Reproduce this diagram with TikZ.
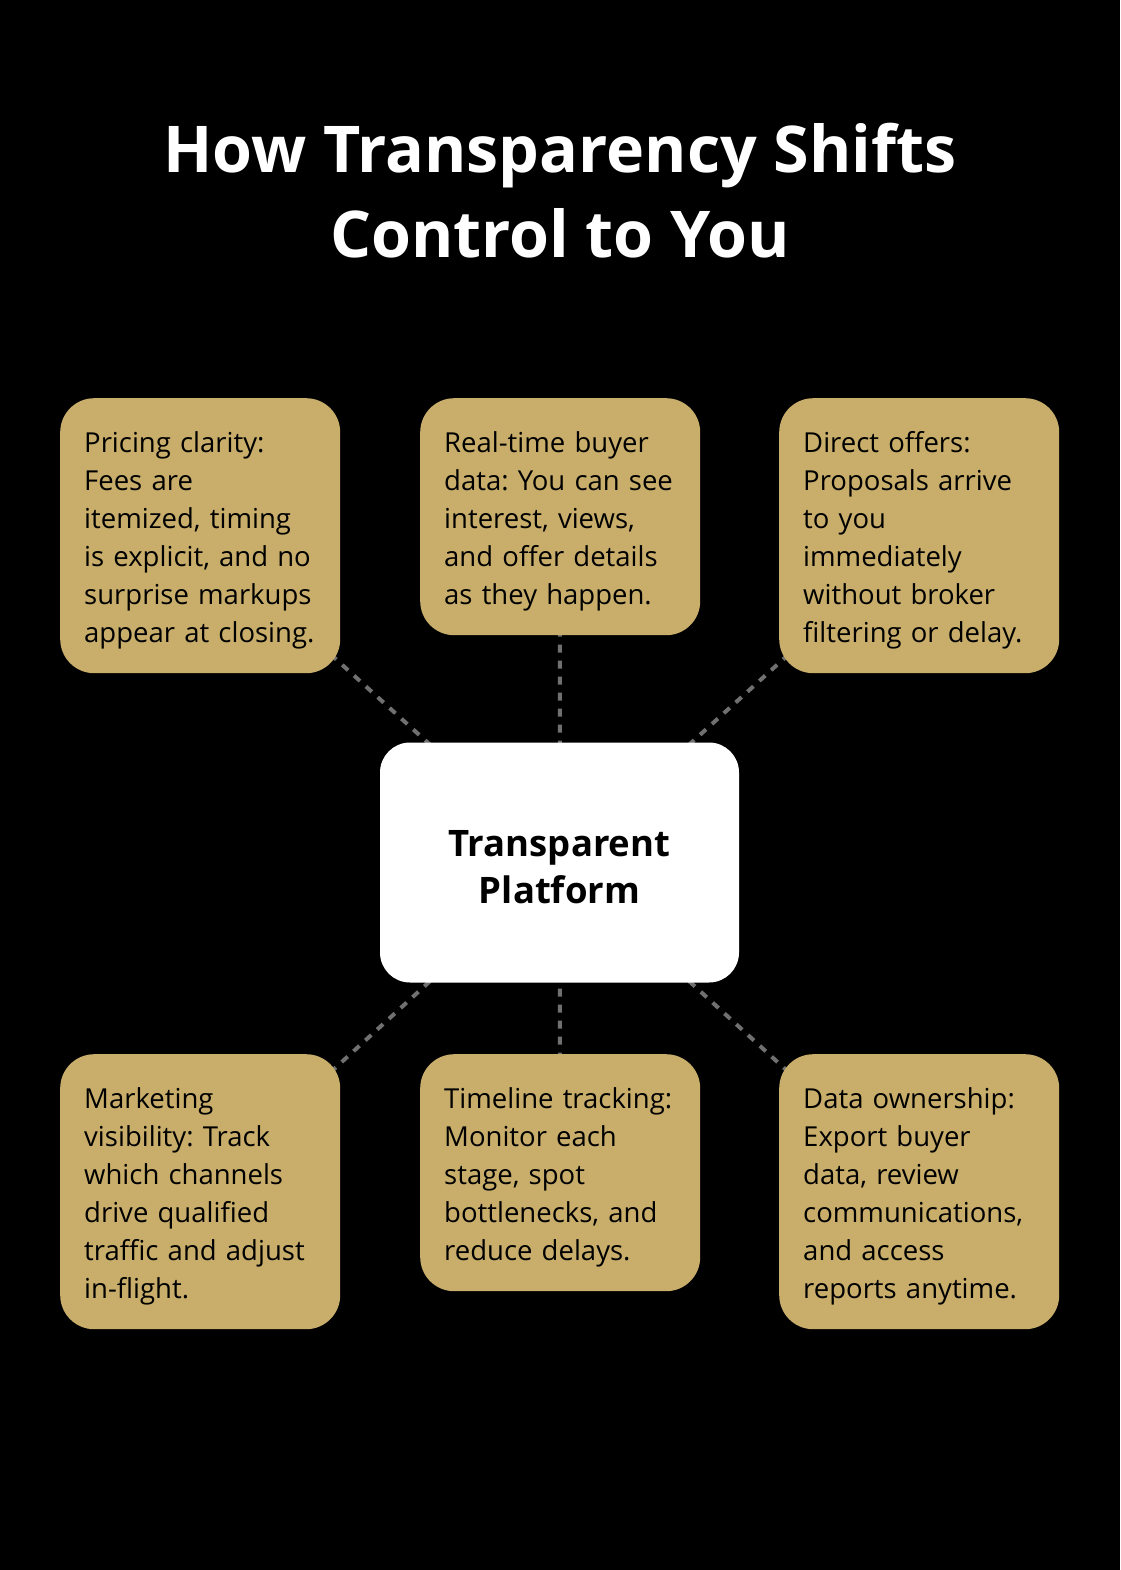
\documentclass[tikz,border=0pt]{standalone}
\usepackage{fontspec}
\setmainfont{Open Sans}
\usetikzlibrary{backgrounds}
\definecolor{gold}{HTML}{C8AE6A}
\definecolor{dashgray}{HTML}{707070}
\frenchspacing
\begin{document}
\begin{tikzpicture}[x=1pt,y=-1pt,
  card/.style={fill=gold, rounded corners=34pt, minimum width=280pt, anchor=north west,
    inner xsep=24pt, inner ysep=0pt, text width=232pt, align=left,
    font=\fontsize{27.5}{38}\selectfont, text=black},
  hub/.style={fill=white, rounded corners=30pt, minimum width=359pt, minimum height=240pt,
    align=center, font=\bfseries\fontsize{36.5}{47}\selectfont, text=black},
  link/.style={draw=dashgray, line width=4pt, dash pattern=on 8pt off 8pt}]
\useasboundingbox (0,0) rectangle (1120,1570);

\node[text=white, align=center, font=\bfseries\fontsize{64.5}{85}\selectfont] (title) at (560,191)
  {How Transparency Shifts\\Control to You};

\node[hub] (hub) at (559.5,862.5) {\rule{0pt}{36pt}Transparent\\Platform};

\node[card, minimum height=275pt] (c1) at (60,398)
  {\rule{0pt}{30pt}Pricing clarity:\\Fees are\\itemized, timing\\is explicit, and no\\surprise markups\\appear at closing.};
\node[card, minimum height=237pt] (c2) at (420,398)
  {\rule{0pt}{30pt}Real-time buyer\\data: You can see\\interest, views,\\and offer details\\as they happen.};
\node[card, minimum height=275pt] (c3) at (779,398)
  {\rule{0pt}{30pt}Direct offers:\\Proposals arrive\\to you\\immediately\\without broker\\filtering or delay.};
\node[card, minimum height=275pt] (c4) at (60,1054)
  {\rule{0pt}{30pt}Marketing\\visibility: Track\\which channels\\drive qualified\\traffic and adjust\\in-flight.};
\node[card, minimum height=237pt] (c5) at (420,1054)
  {\rule{0pt}{30pt}Timeline tracking:\\Monitor each\\stage, spot\\bottlenecks, and\\reduce delays.};
\node[card, minimum height=275pt] (c6) at (779,1054)
  {\rule{0pt}{30pt}Data ownership:\\Export buyer\\data, review\\communications,\\and access\\reports anytime.};

\begin{scope}[on background layer]
\fill[black] (0,0) rectangle (1120,1570);
\foreach \c in {c1,c2,c3,c4,c5,c6}
  \draw[link] (\c.center) -- (hub.center);
\end{scope}
\end{tikzpicture}
\end{document}
